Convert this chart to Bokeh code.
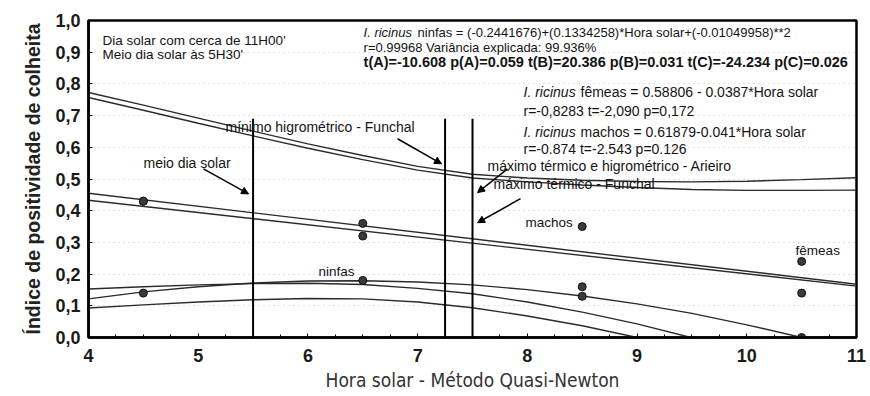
from bokeh.plotting import figure
from bokeh.models import Label, Arrow, NormalHead, FixedTicker, CustomJSTickFormatter
from bokeh.embed import file_html
from bokeh.resources import INLINE

# ---------------- data ----------------
hours = [4.5, 6.5, 8.5, 10.5]
ninfas = [0.14, 0.18, 0.13, 0.00]
femeas = [0.43, 0.36, 0.16, 0.24]
machos = [0.43, 0.32, 0.35, 0.14]

# fitted ninfas curve (quadratic)
ninfas_fit_x = [4.0, 4.5, 5.0, 5.5, 6.0, 6.5, 7.0, 7.5, 8.0, 8.5, 9.0, 9.5, 10.0, 10.5]
ninfas_fit_y = [0.122, 0.144, 0.160, 0.172, 0.178, 0.179, 0.175, 0.166, 0.151, 0.131, 0.106, 0.076, 0.040, 0.0]

# linear fits (fêmeas, machos) at both ends of the axis
line_x = [4.0, 11.0]
femeas_fit_y = [0.433, 0.162]
machos_fit_y = [0.455, 0.168]

# upper curves pair
band_x = [4.0, 4.5, 5.0, 5.5, 6.0, 6.5, 7.0, 7.5, 8.0, 8.5, 9.0, 9.5, 10.0, 10.5, 11.0]
upper_a = [0.773, 0.733, 0.692, 0.651, 0.611, 0.574, 0.540, 0.515, 0.503, 0.496, 0.492, 0.491, 0.493, 0.498, 0.504]
upper_b = [0.757, 0.717, 0.676, 0.636, 0.597, 0.561, 0.528, 0.503, 0.491, 0.481, 0.473, 0.467, 0.464, 0.464, 0.465]

# lower curves pair
lower_a_x = [4.0, 4.5, 5.0, 5.5, 6.0, 6.5, 7.0, 7.5, 8.0, 8.5, 9.0, 9.49]
lower_a_y = [0.153, 0.160, 0.166, 0.170, 0.171, 0.167, 0.155, 0.138, 0.112, 0.080, 0.043, 0.0]
lower_b_x = [4.0, 4.5, 5.0, 5.5, 6.0, 6.5, 7.0, 7.5, 8.0, 8.5, 9.0]
lower_b_y = [0.093, 0.103, 0.112, 0.119, 0.123, 0.122, 0.112, 0.094, 0.068, 0.037, 0.0]

# reference hours (vertical lines)
event_hours = [5.5, 7.25, 7.5]
event_top = [0.69, 0.69, 0.69]

x_ticks = [4, 5, 6, 7, 8, 9, 10, 11]
y_ticks = [0.0, 0.1, 0.2, 0.3, 0.4, 0.5, 0.6, 0.7, 0.8, 0.9, 1.0]

# ---------------- figure ----------------
FONT = "'Liberation Sans', Arial, sans-serif"
NARROW = "'Liberation Sans Narrow', 'DejaVu Sans Condensed', sans-serif"

p = figure(width=866, height=394, x_range=(4, 11), y_range=(0, 1),
           output_backend="svg", toolbar_location=None,
           min_border_left=88, min_border_right=10, min_border_top=20, min_border_bottom=57)
p.background_fill_color = "white"
p.border_fill_color = "white"
p.outline_line_color = "black"
p.outline_line_width = 2.5

p.xgrid.visible = False
p.ygrid.ticker = FixedTicker(ticks=y_ticks)
p.ygrid.grid_line_color = "#c4c4c4"
p.ygrid.grid_line_dash = "1 4"
p.ygrid.grid_line_width = 1

minor = [4 + 0.25 * i for i in range(29)]
p.xaxis.ticker = FixedTicker(ticks=x_ticks, minor_ticks=minor)
p.yaxis.ticker = FixedTicker(ticks=y_ticks)
p.yaxis.formatter = CustomJSTickFormatter(code="return tick.toFixed(1).replace('.', ',');")

for ax in (p.xaxis[0], p.yaxis[0]):
    ax.axis_line_width = 2.5
    ax.axis_line_color = "black"
    ax.major_tick_in = 4
    ax.major_tick_out = 0
    ax.major_tick_line_color = "black"
    ax.major_label_text_font = FONT
    ax.major_label_text_font_style = "bold"
    ax.major_label_text_font_size = "18px"
    ax.major_label_text_color = "#1a1a1a"
p.xaxis.minor_tick_in = 3
p.xaxis.minor_tick_out = 0
p.yaxis.minor_tick_line_color = None
p.xaxis.major_label_standoff = 11
p.yaxis.major_label_standoff = 8

p.xaxis.axis_label = "Hora solar - Método Quasi-Newton"
p.xaxis.axis_label_text_font = NARROW
p.xaxis.axis_label_text_font_style = "normal"
p.xaxis.axis_label_text_font_size = "19px"
p.xaxis.axis_label_text_color = "#333333"
p.xaxis.axis_label_standoff = 4

p.yaxis.axis_label = "Índice de positividade de colheita"
p.yaxis.axis_label_text_font = FONT
p.yaxis.axis_label_text_font_style = "bold"
p.yaxis.axis_label_text_font_size = "19.5px"
p.yaxis.axis_label_text_color = "#222222"
p.yaxis.axis_label_standoff = 8

LC = "#2b2b2b"
# curves
p.line(band_x, upper_a, line_color=LC, line_width=1.4)
p.line(band_x, upper_b, line_color=LC, line_width=1.4)
p.line(line_x, machos_fit_y, line_color=LC, line_width=1.4)
p.line(line_x, femeas_fit_y, line_color=LC, line_width=1.4)
p.line(ninfas_fit_x, ninfas_fit_y, line_color=LC, line_width=1.4)
p.line(lower_a_x, lower_a_y, line_color=LC, line_width=1.4)
p.line(lower_b_x, lower_b_y, line_color=LC, line_width=1.4)

# vertical reference lines
p.segment(x0=event_hours, y0=[0, 0, 0], x1=event_hours, y1=event_top,
          line_color="black", line_width=2)

# points
for ys in (ninfas, femeas, machos):
    p.scatter(hours, ys, size=8, marker="circle", fill_color="#3a3a3a", line_color="#111111")

# ---------------- annotations ----------------
def lab(x, y, text, size="14px", style="normal", x_offset=0, font=FONT):
    p.add_layout(Label(x=x, y=y, text=text, text_font=font, text_font_size=size,
                       text_font_style=style, text_baseline="middle", text_align="left",
                       text_color="#141414", x_offset=x_offset))

lab(4.128, 0.937, "Dia solar com cerca de 11H00'", size="13.5px")
lab(4.128, 0.893, "Meio dia solar às 5H30'", size="13.5px")

lab(6.507, 0.963, "I. ricinus", size="13px", style="italic")
lab(6.507, 0.963, "ninfas = (-0.2441676)+(0.1334258)*Hora solar+(-0.01049958)**2", size="13px", x_offset=54)
lab(6.507, 0.916, "r=0.99968 Variância explicada: 99.936%", size="13px")
lab(6.507, 0.868, "t(A)=-10.608 p(A)=0.059 t(B)=20.386 p(B)=0.031 t(C)=-24.234 p(C)=0.026",
    size="14.5px", style="bold")

lab(7.965, 0.773, "I. ricinus", size="14px", style="italic")
lab(7.965, 0.773, "fêmeas = 0.58806 - 0.0387*Hora solar", size="14px", x_offset=57)
lab(7.965, 0.716, "r=-0,8283 t=-2,090 p=0,172", size="14px")
lab(7.965, 0.647, "I. ricinus", size="14px", style="italic")
lab(7.965, 0.647, "machos = 0.61879-0.041*Hora solar", size="14px", x_offset=57)
lab(7.965, 0.595, "r=-0.874 t=-2.543 p=0.126", size="14px")

lab(5.249, 0.663, "mínimo higrométrico - Funchal")
lab(4.501, 0.551, "meio dia solar")
lab(7.637, 0.542, "máximo térmico e higrométrico - Arieiro")
lab(7.692, 0.485, "máximo térmico - Funchal")
lab(7.984, 0.362, "machos", size="13.5px")
lab(10.445, 0.273, "fêmeas", size="13.5px")
lab(6.097, 0.208, "ninfas", size="13.5px")

def arrow(x0, y0, x1, y1):
    p.add_layout(Arrow(end=NormalHead(size=7, fill_color="black", line_color="black"),
                       x_start=x0, y_start=y0, x_end=x1, y_end=y1,
                       line_color="black", line_width=1.5))

arrow(6.817, 0.627, 7.218, 0.548)
arrow(5.048, 0.532, 5.459, 0.453)
arrow(7.819, 0.532, 7.546, 0.457)
arrow(7.938, 0.438, 7.546, 0.362)

open("out.html", "w").write(file_html(p, INLINE))
